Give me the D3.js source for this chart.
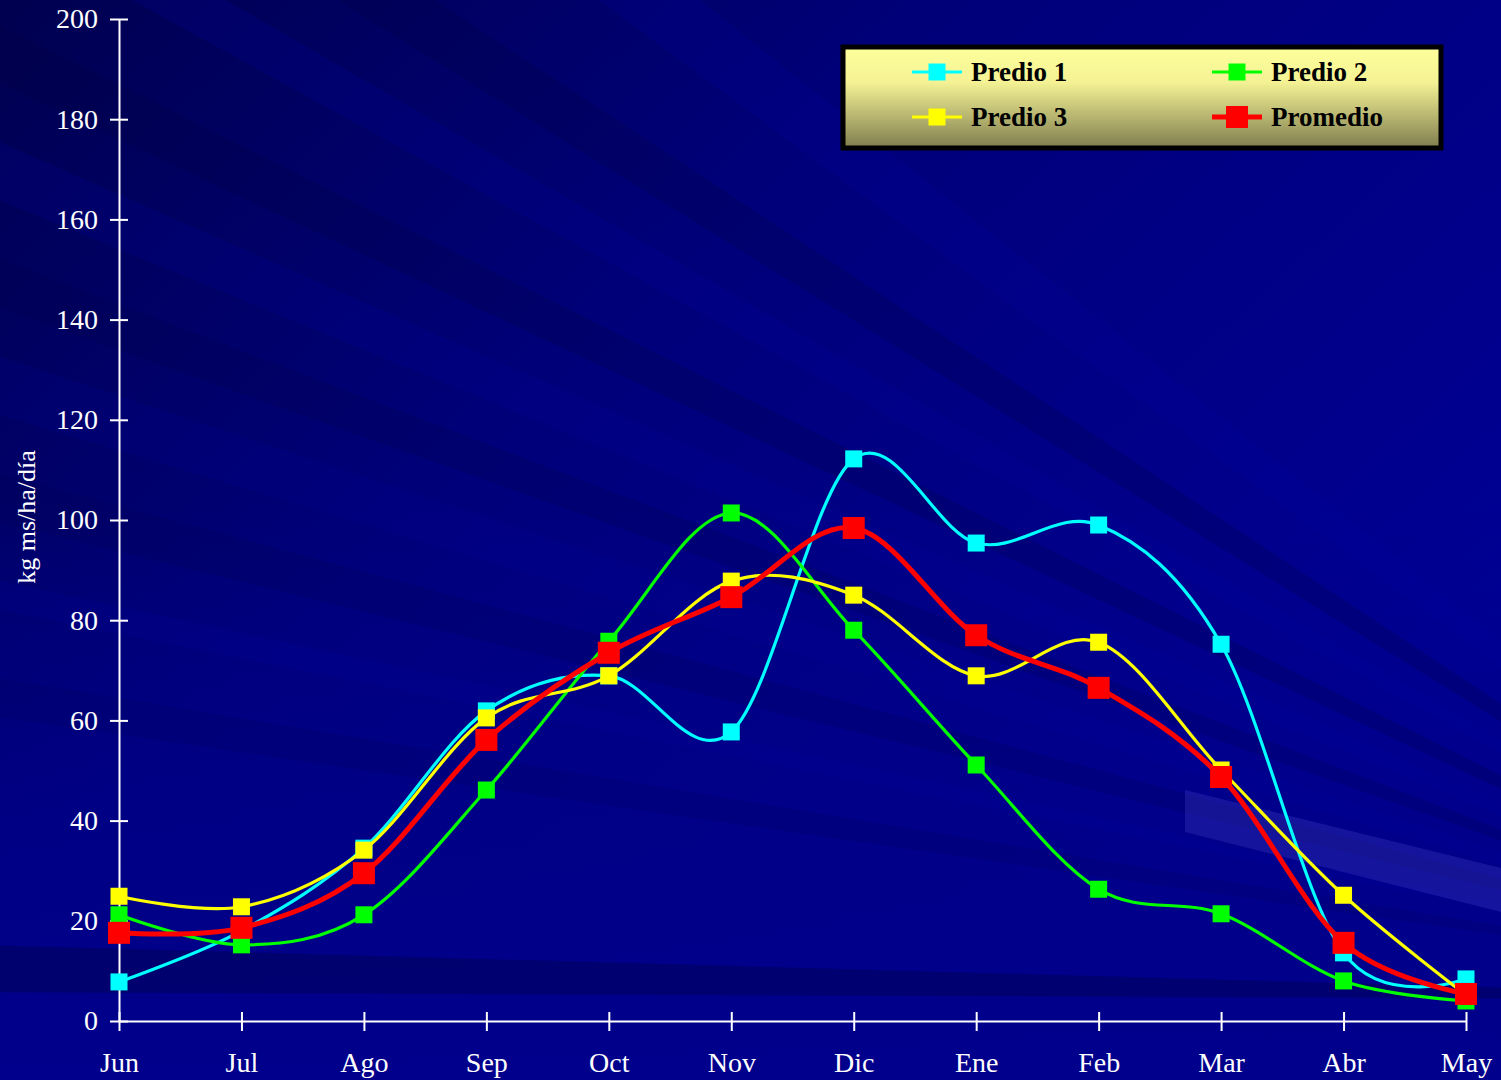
<!DOCTYPE html>
<html><head><meta charset="utf-8">
<script src="https://cdn.jsdelivr.net/npm/d3@7"></script>
<style>html,body{margin:0;padding:0;background:#000080;}svg{display:block;}</style>
</head><body>
<script>
const months = ["Jun","Jul","Ago","Sep","Oct","Nov","Dic","Ene","Feb","Mar","Abr","May"];
const predio1 = [7.8, 18, 34.5, 61.9, 68.9, 57.7, 112.2, 95.4, 99, 75.2, 13.6, 8.4];
const predio2 = [21.2, 15.2, 21.2, 46.1, 75.8, 101.4, 78, 51.1, 26.3, 21.4, 8, 4];
const predio3 = [24.9, 22.8, 34.1, 60.5, 68.9, 87.8, 85, 68.9, 75.6, 50.1, 25.1, 5.2];
const promedio = [17.6, 18.6, 29.5, 56.1, 73.5, 84.6, 98.4, 77, 66.5, 48.7, 15.6, 5.4];
const yTicks = [0,20,40,60,80,100,120,140,160,180,200];
const seriesNames = ["Predio 1","Predio 2","Predio 3","Promedio"];

const W = 1501, H = 1080;
const FONT = "'Liberation Serif','Times New Roman',serif";
const svg = d3.select("body").append("svg").attr("width", W).attr("height", H);
const defs = svg.append("defs");

// background
const bg = defs.append("linearGradient").attr("id","bg").attr("x1",0).attr("y1",0).attr("x2",0.9).attr("y2",0.7);
bg.append("stop").attr("offset","0%").attr("stop-color","#000050");
bg.append("stop").attr("offset","45%").attr("stop-color","#00007a");
bg.append("stop").attr("offset","100%").attr("stop-color","#000094");
svg.append("rect").attr("width",W).attr("height",H).attr("fill","url(#bg)");
const bg2 = defs.append("linearGradient").attr("id","bg2").attr("x1",0).attr("y1",0).attr("x2",0).attr("y2",1);
bg2.append("stop").attr("offset","0%").attr("stop-color","#000088").attr("stop-opacity",0);
bg2.append("stop").attr("offset","60%").attr("stop-color","#000088").attr("stop-opacity",0.8);
bg2.append("stop").attr("offset","100%").attr("stop-color","#00008c").attr("stop-opacity",1);
svg.append("rect").attr("y",500).attr("width",W).attr("height",580).attr("fill","url(#bg2)");

// streaks: wedges fanning from a far vanishing point
const vp = [1950, 1000];
const rays = [
  {a0:0.50, a1:0.47, c:"#000040", o:0.22},
  {a0:0.44, a1:0.41, c:"#0000a0", o:0.18},
  {a0:0.38, a1:0.355, c:"#000048", o:0.2},
  {a0:0.33, a1:0.30, c:"#0000a4", o:0.15},
  {a0:0.27, a1:0.245, c:"#000050", o:0.2},
  {a0:0.215, a1:0.20, c:"#0000a6", o:0.15},
  {a0:0.165, a1:0.145, c:"#000058", o:0.2},
  {a0:0.028, a1:0.004, c:"#000055", o:0.5},
  {a0:0.58, a1:0.55, c:"#0000a0", o:0.2},
  {a0:0.66, a1:0.62, c:"#000040", o:0.22},
  {a0:0.80, a1:0.74, c:"#0000a0", o:0.2}
];
const L = 3000;
rays.forEach(r => {
  const p1 = [vp[0]-L*Math.cos(Math.atan(r.a0)), vp[1]-L*Math.sin(Math.atan(r.a0))];
  const p2 = [vp[0]-L*Math.cos(Math.atan(r.a1)), vp[1]-L*Math.sin(Math.atan(r.a1))];
  svg.append("path").attr("d", `M${vp[0]},${vp[1]}L${p1[0]},${p1[1]}L${p2[0]},${p2[1]}Z`)
    .attr("fill", r.c).attr("opacity", r.o);
});
// short light streak in lower right
svg.append("path").attr("d","M1185,790L1501,868L1501,912L1185,832Z").attr("fill","#3a3ac0").attr("opacity",0.35);

const x = d3.scalePoint().domain(months).range([119, 1466]);
const y = d3.scaleLinear().domain([0,200]).range([1021, 19]);

// axes
const yAxis = d3.axisLeft(y).tickValues(yTicks).tickSizeInner(9).tickSizeOuter(0).tickPadding(12);
const gy = svg.append("g").attr("transform","translate(119,0)").call(yAxis);
gy.attr("font-size",null).attr("font-family",null);
gy.select(".domain").attr("stroke","#fff").attr("stroke-width",2);
gy.selectAll(".tick line").attr("stroke","#fff").attr("stroke-width",2).attr("x2",9).attr("x1",-9);
gy.selectAll(".tick text").attr("fill","#fff").style("font-family",FONT).style("font-size","28px").attr("x",-21);

const xAxis = d3.axisBottom(x).tickSizeInner(9).tickSizeOuter(0).tickPadding(22);
const gx = svg.append("g").attr("transform","translate(0,1021)").call(xAxis);
gx.attr("font-size",null).attr("font-family",null);
gx.select(".domain").attr("stroke","#fff").attr("stroke-width",2);
gx.selectAll(".tick line").attr("stroke","#fff").attr("stroke-width",2).attr("y1",-9).attr("y2",10);
gx.selectAll(".tick text").attr("fill","#fff").style("font-family",FONT).style("font-size","28px").attr("dy",null).attr("y",51);

svg.append("text").attr("transform","translate(35,517) rotate(-90)").attr("text-anchor","middle")
  .attr("fill","#fff").style("font-family",FONT).style("font-size","26px")
  .text("kg ms/ha/día");

// series
const series = [
  {name:seriesNames[0], vals:predio1, color:"#00ffff", w:3.2, m:17},
  {name:seriesNames[1], vals:predio2, color:"#00ff00", w:3.2, m:17},
  {name:seriesNames[2], vals:predio3, color:"#ffff00", w:3.2, m:17},
  {name:seriesNames[3], vals:promedio, color:"#ff0000", w:5, m:22}
];
const line = d3.line().x((d,i)=>x(months[i])).y(d=>y(d)).curve(d3.curveCatmullRom.alpha(0));
series.forEach(s => {
  const g = svg.append("g");
  g.append("path").attr("d", line(s.vals)).attr("fill","none").attr("stroke",s.color).attr("stroke-width",s.w).attr("stroke-linejoin","round");
  g.selectAll("rect").data(s.vals).join("rect")
    .attr("x",(d,i)=>x(months[i])-s.m/2).attr("y",d=>y(d)-s.m/2)
    .attr("width",s.m).attr("height",s.m).attr("fill",s.color);
});

// legend
const lg = defs.append("linearGradient").attr("id","lg").attr("x1",0).attr("y1",0).attr("x2",0).attr("y2",1);
lg.append("stop").attr("offset","0%").attr("stop-color","#ffff9c");
lg.append("stop").attr("offset","35%").attr("stop-color","#f4f294");
lg.append("stop").attr("offset","100%").attr("stop-color","#7f7d4e");
svg.append("rect").attr("x",843).attr("y",47).attr("width",598).attr("height",101)
  .attr("fill","url(#lg)").attr("stroke","#000").attr("stroke-width",5);
const legPos = [[912,72],[1212,72],[912,117],[1212,117]];
series.forEach((s,i) => {
  const [lx,ly] = legPos[i];
  svg.append("line").attr("x1",lx).attr("x2",lx+50).attr("y1",ly).attr("y2",ly).attr("stroke",s.color).attr("stroke-width",s.w);
  svg.append("rect").attr("x",lx+25-s.m/2).attr("y",ly-s.m/2).attr("width",s.m).attr("height",s.m).attr("fill",s.color);
  svg.append("text").attr("x",lx+59).attr("y",ly+9).style("font-family",FONT)
    .style("font-weight","bold").style("font-size","27px").attr("fill","#000").text(s.name);
});
</script>
</body></html>
